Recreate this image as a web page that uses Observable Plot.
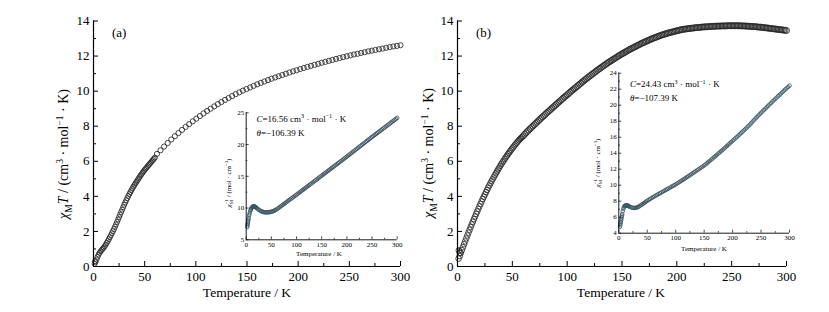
<!DOCTYPE html>
<html><head><meta charset="utf-8">
<script src="https://cdn.jsdelivr.net/npm/d3@7"></script>
<script src="https://cdn.jsdelivr.net/npm/@observablehq/plot@0.6"></script>
<style>
html,body{margin:0;padding:0;background:#fff;}
#wrap{position:relative;width:829px;height:312px;background:#fff;overflow:hidden;}
#wrap svg{position:absolute;}
</style>
</head><body>
<div id="wrap"></div>
<script>
// ---------- data ----------
const xMajor = [0, 50, 100, 150, 200, 250, 300];
const xMinor = [25, 75, 125, 175, 225, 275];
const yMajorMain = [0, 2, 4, 6, 8, 10, 12, 14];
const yMinorMain = [1, 3, 5, 7, 9, 11, 13];
const yMajorInsetA = [5, 10, 15, 20, 25];
const yMinorInsetA = [7.5, 12.5, 17.5, 22.5];
const yMajorInsetB = [4, 6, 8, 10, 12, 14, 16, 18, 20, 22, 24];
const yMinorInsetB = [5, 7, 9, 11, 13, 15, 17, 19, 21, 23];

// (a) chi_M T vs T, dense low-T part
const aDense = [[1,0.15],[1.5,0.3],[2,0.25],[3,0.4],[4,0.55],[5,0.68],[6,0.78],[7,0.86],[8,0.94],[9,1.01],[10,1.08],[11,1.16],[12,1.25],[13,1.35],[14,1.45],[15,1.56],[16,1.67],[17,1.78],[18,1.9],[19,2.02],[20,2.14],[21,2.27],[22,2.4],[23,2.54],[24,2.68],[25,2.82],[26,2.96],[27,3.1],[28,3.24],[29,3.38],[30,3.52],[31,3.65],[32,3.78],[33,3.9],[34,4.02],[35,4.13],[36,4.24],[37,4.35],[38,4.45],[39,4.55],[40,4.65],[41,4.74],[42,4.83],[43,4.92],[44,5.01],[45,5.1],[46,5.19],[47,5.27],[48,5.35],[49,5.43],[50,5.51],[51,5.58],[52,5.65],[53,5.72],[54,5.79],[55,5.86],[56,5.93],[57,6.0],[58,6.07],[59,6.14],[60,6.21]];
// (a) sparse high-T part
const aSparse = [[62,6.42],[65.5,6.63],[69,6.84],[72.5,7.04],[76,7.24],[79.5,7.43],[83,7.61],[86.5,7.79],[90,7.96],[93.5,8.12],[97,8.28],[100.5,8.43],[104,8.58],[107.5,8.73],[111,8.87],[114.5,9.0],[118,9.13],[121.5,9.26],[125,9.38],[128.5,9.5],[132,9.61],[135.5,9.72],[139,9.83],[142.5,9.93],[146,10.03],[149.5,10.12],[153,10.21],[156.5,10.3],[160,10.39],[163.5,10.47],[167,10.55],[170.5,10.63],[174,10.71],[177.5,10.78],[181,10.85],[184.5,10.92],[188,10.99],[191.5,11.06],[195,11.13],[198.5,11.19],[202,11.26],[205.5,11.32],[209,11.38],[212.5,11.44],[216,11.5],[219.5,11.56],[223,11.62],[226.5,11.67],[230,11.73],[233.5,11.78],[237,11.84],[240.5,11.89],[244,11.94],[247.5,11.99],[251,12.04],[254.5,12.09],[258,12.13],[261.5,12.18],[265,12.22],[268.5,12.27],[272,12.31],[275.5,12.35],[279,12.39],[282.5,12.43],[286,12.47],[289.5,12.51],[293,12.55],[296.5,12.58],[300,12.62]];

// (b) chi_M T vs T (dense)
const bLow = [[1.2,0.92],[2,0.78],[1,0.45],[2,0.6],[3,0.77],[4,0.93],[5,1.1],[6,1.27],[7,1.43],[8,1.6],[9,1.77],[10,1.93],[11,2.09],[12,2.25],[13,2.4],[14,2.55],[15,2.7],[16,2.85],[17,3.0],[18,3.14],[19,3.29],[20,3.43],[21,3.57],[22,3.71],[23,3.85],[24,3.98],[25,4.11],[26,4.24],[27,4.37],[28,4.5],[29,4.62],[30,4.74],[31,4.86],[32,4.97],[33,5.09],[34,5.2],[35,5.31],[36,5.42],[37,5.53],[38,5.63],[39,5.74],[40,5.84],[41,5.94],[42,6.03],[43,6.13],[44,6.22],[45,6.31],[46,6.4],[47,6.49],[48,6.57],[49,6.66],[50,6.74],[51,6.82],[52,6.9],[53,6.98],[54,7.05],[55,7.13],[56,7.2],[57,7.27],[58,7.33],[59,7.39]];
const bHigh = [[60,7.45],[61.25,7.54],[62.5,7.62],[63.75,7.7],[65,7.78],[66.25,7.86],[67.5,7.93],[68.75,8.01],[70,8.08],[71.25,8.16],[72.5,8.23],[73.75,8.31],[75,8.38],[76.25,8.46],[77.5,8.53],[78.75,8.6],[80,8.67],[81.25,8.75],[82.5,8.82],[83.75,8.89],[85,8.96],[86.25,9.03],[87.5,9.1],[88.75,9.17],[90,9.24],[91.25,9.31],[92.5,9.38],[93.75,9.45],[95,9.52],[96.25,9.59],[97.5,9.66],[98.75,9.73],[100,9.79],[101.25,9.86],[102.5,9.93],[103.75,10.0],[105,10.06],[106.25,10.13],[107.5,10.19],[108.75,10.26],[110,10.32],[111.25,10.39],[112.5,10.45],[113.75,10.52],[115,10.58],[116.25,10.65],[117.5,10.71],[118.75,10.77],[120,10.83],[121.25,10.89],[122.5,10.95],[123.75,11.01],[125,11.07],[126.25,11.13],[127.5,11.19],[128.75,11.25],[130,11.3],[131.25,11.36],[132.5,11.41],[133.75,11.47],[135,11.52],[136.25,11.58],[137.5,11.63],[138.75,11.68],[140,11.73],[141.25,11.78],[142.5,11.83],[143.75,11.88],[145,11.93],[146.25,11.98],[147.5,12.03],[148.75,12.08],[150,12.12],[151.25,12.17],[152.5,12.21],[153.75,12.26],[155,12.3],[156.25,12.35],[157.5,12.39],[158.75,12.43],[160,12.47],[161.25,12.51],[162.5,12.55],[163.75,12.59],[165,12.63],[166.25,12.67],[167.5,12.71],[168.75,12.75],[170,12.78],[171.25,12.82],[172.5,12.85],[173.75,12.89],[175,12.92],[176.25,12.96],[177.5,12.99],[178.75,13.02],[180,13.05],[181.25,13.08],[182.5,13.11],[183.75,13.14],[185,13.17],[186.25,13.2],[187.5,13.22],[188.75,13.25],[190,13.27],[191.25,13.3],[192.5,13.32],[193.75,13.34],[195,13.36],[196.25,13.38],[197.5,13.4],[198.75,13.42],[200,13.44],[201.25,13.46],[202.5,13.48],[203.75,13.5],[205,13.51],[206.25,13.53],[207.5,13.54],[208.75,13.55],[210,13.56],[211.25,13.57],[212.5,13.58],[213.75,13.59],[215,13.6],[216.25,13.61],[217.5,13.62],[218.75,13.63],[220,13.63],[221.25,13.64],[222.5,13.65],[223.75,13.66],[225,13.66],[226.25,13.67],[227.5,13.67],[228.75,13.68],[230,13.68],[231.25,13.69],[232.5,13.69],[233.75,13.7],[235,13.7],[236.25,13.71],[237.5,13.71],[238.75,13.71],[240,13.71],[241.25,13.72],[242.5,13.72],[243.75,13.72],[245,13.72],[246.25,13.73],[247.5,13.73],[248.75,13.73],[250,13.73],[251.25,13.73],[252.5,13.73],[253.75,13.73],[255,13.73],[256.25,13.73],[257.5,13.73],[258.75,13.72],[260,13.72],[261.25,13.72],[262.5,13.71],[263.75,13.71],[265,13.7],[266.25,13.7],[267.5,13.69],[268.75,13.69],[270,13.68],[271.25,13.68],[272.5,13.67],[273.75,13.66],[275,13.65],[276.25,13.65],[277.5,13.64],[278.75,13.63],[280,13.62],[281.25,13.61],[282.5,13.6],[283.75,13.59],[285,13.58],[286.25,13.57],[287.5,13.56],[288.75,13.55],[290,13.54],[291.25,13.53],[292.5,13.52],[293.75,13.51],[295,13.5],[296.25,13.49],[297.5,13.48],[298.75,13.47],[300,13.46]];

// insets: 1/chi_M vs T
const aInset = [[2,7.0],[2.5,7.25],[3,7.5],[3.5,7.75],[4,8.0],[4.5,8.25],[5,8.5],[6,8.9],[7,9.2],[8,9.5],[9,9.7],[10,9.9],[11,10.05],[12,10.15],[13,10.22],[14,10.25],[15,10.26],[16,10.25],[17,10.22],[18,10.18],[19,10.12],[20,10.05],[22,9.92],[24,9.8],[26,9.68],[28,9.58],[30,9.5],[32,9.43],[34,9.38],[36,9.35],[38,9.33],[40,9.32],[42,9.32],[44,9.33],[46,9.35],[48,9.38],[50,9.42],[52,9.47],[54,9.53],[56,9.6],[58,9.68],[60,9.76],[62.5,9.9],[65,10.05],[67.5,10.2],[70,10.34],[72.5,10.49],[75,10.64],[77.5,10.79],[80,10.94],[82.5,11.09],[85,11.24],[87.5,11.38],[90,11.52],[92.5,11.66],[95,11.8],[97.5,11.95],[100,12.1],[102.5,12.25],[105,12.4],[107.5,12.55],[110,12.7],[112.5,12.85],[115,13.0],[117.5,13.15],[120,13.3],[122.5,13.45],[125,13.6],[127.5,13.75],[130,13.9],[132.5,14.05],[135,14.2],[137.5,14.35],[140,14.5],[142.5,14.65],[145,14.8],[147.5,14.95],[150,15.1],[152.5,15.25],[155,15.4],[157.5,15.55],[160,15.7],[162.5,15.85],[165,16.0],[167.5,16.15],[170,16.3],[172.5,16.45],[175,16.6],[177.5,16.75],[180,16.9],[182.5,17.05],[185,17.2],[187.5,17.35],[190,17.5],[192.5,17.65],[195,17.8],[197.5,17.95],[200,18.1],[202.5,18.26],[205,18.41],[207.5,18.57],[210,18.72],[212.5,18.88],[215,19.03],[217.5,19.19],[220,19.34],[222.5,19.5],[225,19.65],[227.5,19.81],[230,19.96],[232.5,20.12],[235,20.27],[237.5,20.43],[240,20.58],[242.5,20.74],[245,20.89],[247.5,21.05],[250,21.2],[252.5,21.35],[255,21.5],[257.5,21.65],[260,21.8],[262.5,21.95],[265,22.1],[267.5,22.25],[270,22.4],[272.5,22.55],[275,22.7],[277.5,22.85],[280,23.0],[282.5,23.15],[285,23.3],[287.5,23.45],[290,23.6],[292.5,23.75],[295,23.9],[297.5,24.05],[300,24.2]];
const aFit = [[55,9.45],[300,23.85]];

const bInset = [[2,4.8],[2.5,5.0],[3,5.2],[3.5,5.4],[4,5.6],[4.5,5.8],[5,6.0],[5.5,6.2],[6,6.4],[7,6.75],[8,7.05],[9,7.25],[10,7.38],[11,7.44],[12,7.47],[13,7.48],[14,7.48],[15,7.46],[16,7.43],[17,7.39],[18,7.35],[20,7.28],[22,7.22],[24,7.18],[26,7.16],[28,7.16],[30,7.18],[32,7.22],[34,7.28],[36,7.36],[38,7.46],[40,7.56],[42,7.65],[44,7.75],[46,7.85],[48,7.95],[50,8.06],[52.5,8.17],[55,8.28],[57.5,8.39],[60,8.5],[62.5,8.6],[65,8.7],[67.5,8.8],[70,8.9],[72.5,9.0],[75,9.1],[77.5,9.2],[80,9.3],[82.5,9.4],[85,9.5],[87.5,9.6],[90,9.7],[92.5,9.8],[95,9.9],[97.5,10.0],[100,10.1],[102.5,10.21],[105,10.33],[107.5,10.44],[110,10.56],[112.5,10.67],[115,10.79],[117.5,10.9],[120,11.02],[122.5,11.13],[125,11.25],[127.5,11.37],[130,11.5],[132.5,11.62],[135,11.74],[137.5,11.86],[140,11.98],[142.5,12.1],[145,12.22],[147.5,12.34],[150,12.46],[152.5,12.6],[155,12.75],[157.5,12.9],[160,13.05],[162.5,13.2],[165,13.35],[167.5,13.5],[170,13.65],[172.5,13.8],[175,13.96],[177.5,14.11],[180,14.27],[182.5,14.42],[185,14.58],[187.5,14.74],[190,14.9],[192.5,15.06],[195,15.22],[197.5,15.38],[200,15.55],[202.5,15.71],[205,15.87],[207.5,16.03],[210,16.2],[212.5,16.36],[215,16.53],[217.5,16.69],[220,16.86],[222.5,17.03],[225,17.2],[227.5,17.37],[230,17.55],[232.5,17.74],[235,17.94],[237.5,18.13],[240,18.33],[242.5,18.51],[245,18.69],[247.5,18.87],[250,19.05],[252.5,19.22],[255,19.4],[257.5,19.57],[260,19.75],[262.5,19.92],[265,20.1],[267.5,20.27],[270,20.45],[272.5,20.62],[275,20.79],[277.5,20.95],[280,21.12],[282.5,21.29],[285,21.46],[287.5,21.63],[290,21.8],[292.5,21.96],[295,22.12],[297.5,22.28],[300,22.45]];
const bFit = [[25,7.05],[50,7.95],[100,10.0],[150,12.4],[200,15.5]];

// ---------- helpers ----------
const FONT = "Liberation Serif, Times New Roman, serif";
const wrap = document.getElementById("wrap");

function tickMarks(xMaj, xMin, yMaj, yMin, x0, y0, L, l, sw) {
  return [
    Plot.ruleX(xMaj, {x: d => d, y1: y0, y2: y0, insetBottom: L, strokeWidth: sw}),
    Plot.ruleX(xMin, {x: d => d, y1: y0, y2: y0, insetBottom: l, strokeWidth: sw}),
    Plot.ruleY(yMaj, {y: d => d, x1: x0, x2: x0, insetRight: -L, strokeWidth: sw}),
    Plot.ruleY(yMin, {y: d => d, x1: x0, x2: x0, insetRight: -l, strokeWidth: sw})
  ];
}

function rich(sel, parts, fs) {
  let cur = 0;
  for (const p of parts) {
    const ts = sel.append("tspan").text(p.t);
    let target = 0, size = fs;
    if (p.s === "sub") { target = 0.3 * fs; size = 0.68 * fs; }
    if (p.s === "sup") { target = -0.38 * fs; size = 0.68 * fs; }
    if (p.s === "i") ts.attr("font-style", "italic");
    ts.attr("dy", target - cur).attr("font-size", size);
    if (p.dx) ts.attr("dx", p.dx);
    cur = target;
  }
}

function addText(svg, x, y, parts, fs, opts = {}) {
  const t = d3.select(svg).append("text")
    .attr("x", x).attr("y", y)
    .attr("font-family", FONT).attr("font-size", fs)
    .attr("fill", "black")
    .attr("text-anchor", opts.anchor || "start");
  if (opts.rotate) t.attr("transform", `rotate(${opts.rotate},${x},${y})`);
  rich(t, parts, fs);
  return t;
}

function mainPlot(left, marginLeft, marginRight, width, marks) {
  const svg = Plot.plot({
    width, height: 312,
    marginLeft, marginRight, marginTop: 20.5, marginBottom: 46,
    x: {domain: [0, 300]},
    y: {domain: [0, 14]},
    style: {fontFamily: FONT, fontSize: "13px", background: "transparent", color: "black", overflow: "visible"},
    marks: [
      Plot.axisX(xMajor, {tickSize: 0, tickPadding: 5, label: null}),
      Plot.axisY(yMajorMain, {tickSize: 0, tickPadding: 4, label: null}),
      ...marks,
      Plot.ruleY([0], {strokeWidth: 1.2}),
      Plot.ruleX([0], {strokeWidth: 1.2}),
      ...tickMarks(xMajor, xMinor, yMajorMain, yMinorMain, 0, 0, 5, 3, 1)
    ]
  });
  svg.style.left = left + "px";
  svg.style.top = "0px";
  wrap.appendChild(svg);
  return svg;
}

function insetPlot(left, top, width, height, mL, mR, mT, mB, yDom, yMaj, yMin, data, fit) {
  const svg = Plot.plot({
    width, height,
    marginLeft: mL, marginRight: mR, marginTop: mT, marginBottom: mB,
    x: {domain: [0, 300]},
    y: {domain: yDom},
    style: {fontFamily: FONT, fontSize: "7px", background: "transparent", color: "black", overflow: "visible"},
    marks: [
      Plot.axisX(xMajor, {tickSize: 0, tickPadding: 2, label: null}),
      Plot.axisY(yMaj, {tickSize: 0, tickPadding: 2, label: null}),
      Plot.line(fit, {x: d => d[0], y: d => d[1], stroke: "#d9534f", strokeWidth: 0.9}),
      Plot.dot(data, {x: d => d[0], y: d => d[1], r: 1.8, stroke: "#34535f", strokeWidth: 0.8, fill: "none"}),
      Plot.ruleY([yDom[0]], {strokeWidth: 0.9}),
      Plot.ruleX([0], {strokeWidth: 0.9}),
      ...tickMarks(xMajor, xMinor, yMaj, yMin, 0, yDom[0], 3, 1.6, 0.7)
    ]
  });
  svg.style.left = left + "px";
  svg.style.top = top + "px";
  wrap.appendChild(svg);
  return svg;
}

// ---------- panel (a) ----------
const dotStyle = {stroke: "#262626", strokeWidth: 0.85, fill: "none"};
const svgA = mainPlot(0, 93, 15, 415, [
  Plot.dot(aDense, {x: d => d[0], y: d => d[1], r: 2.5, ...dotStyle}),
  Plot.dot(aSparse, {x: d => d[0], y: d => d[1], r: 2.6, ...dotStyle})
]);
// ---------- panel (b) ----------
const svgB = mainPlot(415, 42, 43, 414, [
  Plot.dot(bLow, {x: d => d[0], y: d => d[1], r: 2.8, ...dotStyle}),
  Plot.dot(bHigh, {x: d => d[0], y: d => d[1], r: 3, ...dotStyle})
]);

const yLabelParts = [
  {t: "χ", s: "i"}, {t: "M", s: "sub"}, {t: "T", s: "i"}, {t: " / (cm"}, {t: "3", s: "sup"},
  {t: " · mol"}, {t: "−1", s: "sup"}, {t: " · K)"}
];
addText(svgA, 68, 154, yLabelParts, 14, {anchor: "middle", rotate: -90});
addText(svgB, 433 - 415, 153, yLabelParts, 14, {anchor: "middle", rotate: -90});
addText(svgA, 247, 297, [{t: "Temperature / K"}], 13.5, {anchor: "middle"});
addText(svgB, 621 - 415, 297, [{t: "Temperature / K"}], 13.5, {anchor: "middle"});
addText(svgA, 112, 37, [{t: "(a)"}], 13);
addText(svgB, 476 - 415, 37, [{t: "(b)"}], 13);

// ---------- insets ----------
const inA = insetPlot(200, 100, 205, 160, 45.7, 8.3, 12.3, 20.7, [5, 25], yMajorInsetA, yMinorInsetA, aInset, aFit);
const inB = insetPlot(580, 60, 220, 200, 38.3, 11, 12.7, 27.3, [4, 24], yMajorInsetB, yMinorInsetB, bInset, bFit);

const insetYParts = [
  {t: "χ", s: "i"}, {t: "M", s: "sub"}, {t: "−1", s: "sup", dx: -4}, {t: " / (mol · cm"}, {t: "−3", s: "sup"}, {t: ")"}
];
addText(inA, 231 - 200, 183 - 100, insetYParts, 7, {anchor: "middle", rotate: -90});
addText(inB, 600 - 580, 163 - 60, insetYParts, 7, {anchor: "middle", rotate: -90});
addText(inA, 319 - 200, 256 - 100, [{t: "Temperature / K"}], 7, {anchor: "middle"});
addText(inB, 704 - 580, 250.5 - 60, [{t: "Temperature / K"}], 7, {anchor: "middle"});

function cParts(c) {
  return [{t: "C", s: "i"}, {t: "=" + c + " cm"}, {t: "3", s: "sup"}, {t: " · mol"}, {t: "−1", s: "sup"}, {t: " · K"}];
}
addText(inA, 256.5 - 200, 121.5 - 100, cParts("16.56"), 9);
addText(inA, 256.5 - 200, 135.5 - 100, [{t: "θ", s: "i"}, {t: "=−106.39 K"}], 9);
addText(inB, 630 - 580, 87 - 60, cParts("24.43"), 9);
addText(inB, 630 - 580, 100.5 - 60, [{t: "θ", s: "i"}, {t: "=−107.39 K"}], 9);
</script>
</body></html>
